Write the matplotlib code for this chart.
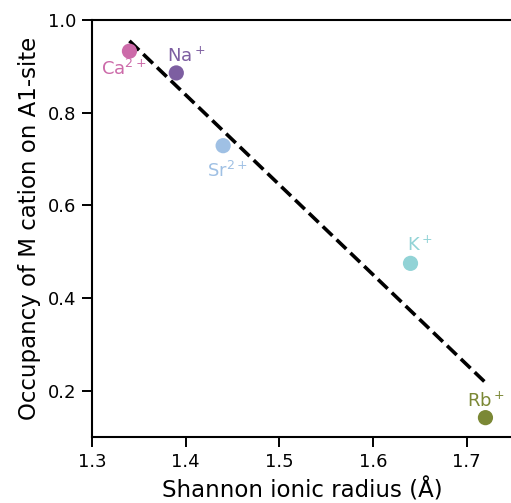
import numpy as np
import matplotlib
matplotlib.use('Agg')
import matplotlib.pyplot as plt

# cation data
cations = ['Ca$^{2+}$', 'Na$^+$', 'Sr$^{2+}$', 'K$^+$', 'Rb$^+$']
radius = [1.34, 1.39, 1.44, 1.64, 1.72]
occupancy = [0.933, 0.886, 0.729, 0.475, 0.142]
colors = ['#cc6aa9', '#7d5ea1', '#9fc0e4', '#92d3d6', '#7b8835']
# label offsets in points (dx, dy)
offsets = [(-4, -13), (7, 12), (3, -18), (7, 13), (0, 12)]

fig = plt.figure(figsize=(5.11, 5.03), dpi=100)
ax = fig.add_axes([0.18, 0.131, 0.825, 0.829])

for x, y, c, name, (dx, dy) in zip(radius, occupancy, colors, cations, offsets):
    ax.scatter(x, y, s=120, color=c, zorder=3, edgecolors='none')
    ax.annotate(name, (x, y), xytext=(dx, dy), textcoords='offset points',
                ha='center', va='center', color=c, fontsize=13)

# linear fit through the points
k, b = np.polyfit(radius, occupancy, 1)
xf = np.array([radius[0], radius[-1]])
ax.plot(xf, k * xf + b, 'k--', lw=2.6, zorder=2)

ax.set_xlim(1.3, 1.75)
ax.set_ylim(0.1, 1.0)
ax.set_xticks([1.3, 1.4, 1.5, 1.6, 1.7])
ax.set_yticks([0.2, 0.4, 0.6, 0.8, 1.0])
ax.tick_params(length=7, width=1.4, pad=4.5)
for lab in ax.get_xticklabels() + ax.get_yticklabels():
    lab.set_fontsize(13)
for s in ax.spines.values():
    s.set_linewidth(1.5)
ax.set_xlabel('Shannon ionic radius (Å)', fontsize=16.5, labelpad=5)
ax.set_ylabel('Occupancy of M cation on A1-site', fontsize=16.5, labelpad=5)

fig.savefig('out.png', dpi=100)
